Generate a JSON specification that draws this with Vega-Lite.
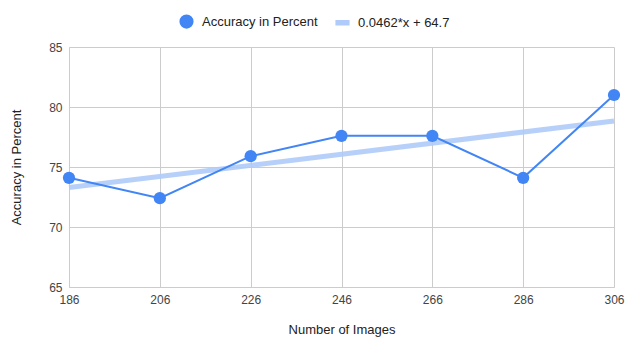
{
  "$schema": "https://vega.github.io/schema/vega-lite/v6.json",
  "width": 545,
  "height": 240,
  "autosize": "none",
  "padding": {"left": 69, "top": 47, "right": 12, "bottom": 50},
  "background": "white",
  "config": {
    "font": "Liberation Sans",
    "view": {"stroke": null},
    "axis": {
      "labelFont": "Liberation Sans",
      "titleFont": "Liberation Sans",
      "labelFontSize": 12,
      "titleFontSize": 13,
      "labelColor": "#444444",
      "titleColor": "#222222",
      "titleFontWeight": "normal",
      "gridColor": "#cccccc",
      "domainColor": "#cccccc",
      "ticks": false
    },
    "legend": {"labelFont": "Liberation Sans", "labelFontSize": 13, "labelColor": "#222222"}
  },
  "datasets": {
    "accuracy": [
      {"images": 186, "accuracy": 74.1, "series": "Accuracy in Percent"},
      {"images": 206, "accuracy": 72.4, "series": "Accuracy in Percent"},
      {"images": 226, "accuracy": 75.9, "series": "Accuracy in Percent"},
      {"images": 246, "accuracy": 77.6, "series": "Accuracy in Percent"},
      {"images": 266, "accuracy": 77.6, "series": "Accuracy in Percent"},
      {"images": 286, "accuracy": 74.1, "series": "Accuracy in Percent"},
      {"images": 306, "accuracy": 81.0, "series": "Accuracy in Percent"}
    ],
    "trend": [
      {"images": 186, "accuracy": 73.29, "series": "0.0462*x + 64.7"},
      {"images": 306, "accuracy": 78.84, "series": "0.0462*x + 64.7"}
    ]
  },
  "encoding": {
    "x": {
      "field": "images",
      "type": "quantitative",
      "scale": {"domain": [186, 306], "nice": false, "zero": false},
      "axis": {
        "values": [186, 206, 226, 246, 266, 286, 306],
        "title": "Number of Images",
        "labelPadding": 7,
        "titlePadding": 18,
        "labelFlush": false
      }
    },
    "y": {
      "field": "accuracy",
      "type": "quantitative",
      "scale": {"domain": [65, 85], "nice": false, "zero": false},
      "axis": {
        "values": [65, 70, 75, 80, 85],
        "title": "Accuracy in Percent",
        "labelPadding": 7,
        "titlePadding": 25
      }
    },
    "color": {
      "field": "series",
      "type": "nominal",
      "scale": {
        "domain": ["Accuracy in Percent", "0.0462*x + 64.7"],
        "range": ["#4285f4", "#aecbfa"]
      },
      "legend": {
        "title": null,
        "orient": "none",
        "direction": "horizontal",
        "legendX": 110,
        "legendY": -33,
        "columnPadding": 15,
        "labelOffset": 8,
        "symbolSize": 160,
        "encode": {
          "symbols": {
            "update": {
              "shape": {"signal": "datum.value === 'Accuracy in Percent' ? 'circle' : 'M-1,-0.3H1V0.3H-1Z'"},
              "fill": {"scale": "color", "field": "value"},
              "stroke": {"value": "transparent"},
              "opacity": {"value": 1}
            }
          }
        }
      }
    }
  },
  "layer": [
    {
      "data": {"name": "trend"},
      "mark": {"type": "line", "strokeWidth": 5, "opacity": 0.9}
    },
    {
      "data": {"name": "accuracy"},
      "mark": {"type": "line", "strokeWidth": 2}
    },
    {
      "data": {"name": "accuracy"},
      "mark": {"type": "point", "filled": true, "size": 150, "opacity": 1}
    }
  ]
}
